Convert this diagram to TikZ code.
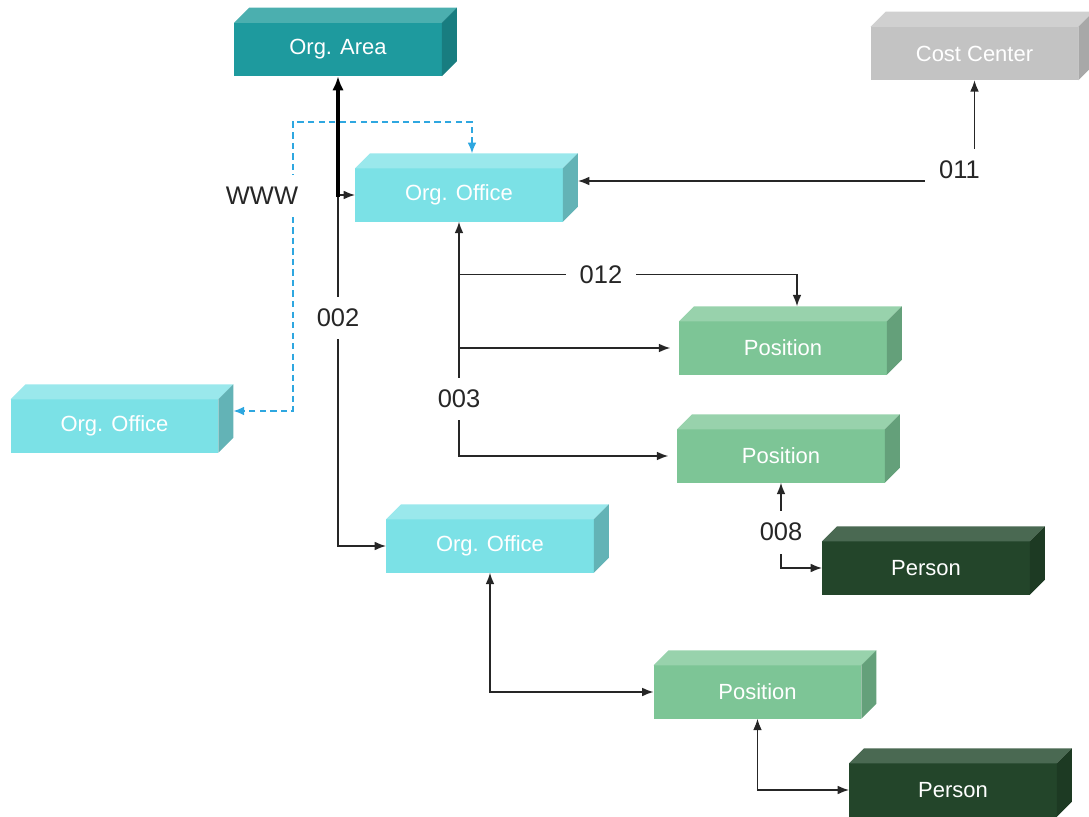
\documentclass[tikz,border=0pt]{standalone}
\usepackage{fontspec}
\setmainfont{Liberation Sans}
\usetikzlibrary{arrows.meta,calc}
\definecolor{area}{HTML}{1E9A9E}
\definecolor{areatop}{HTML}{4BAFAF}
\definecolor{areaside}{HTML}{187D80}
\definecolor{cost}{HTML}{C3C3C3}
\definecolor{costtop}{HTML}{D0D0D0}
\definecolor{costside}{HTML}{A8A8A8}
\definecolor{office}{HTML}{7BE1E6}
\definecolor{officetop}{HTML}{9AE8EC}
\definecolor{officeside}{HTML}{63B3B6}
\definecolor{posn}{HTML}{7DC596}
\definecolor{posntop}{HTML}{98D2AC}
\definecolor{posnside}{HTML}{64A07A}
\definecolor{person}{HTML}{23452A}
\definecolor{persontop}{HTML}{4A6952}
\definecolor{personside}{HTML}{1D3A23}
\definecolor{dashblue}{HTML}{2EA7E0}

\begin{document}
\begin{tikzpicture}[x=0.02cm, y=-0.02cm,
                >={Latex[length=6.5pt,width=5pt]},
                box/.style={fill=#1, text=white, font=\fontsize{12.5}{15}\selectfont,
                        minimum width=4.16cm, minimum height=1.07cm, inner sep=0pt, outer sep=0pt},
                conn/.style={draw=black!85, line width=0.8pt},
                lbl/.style={fill=white, text=black!85, font=\fontsize{14.5}{17}\selectfont,
                        inner xsep=8pt, inner ysep=7pt},
                dashlink/.style={draw=dashblue, line width=0.9pt, dash pattern=on 3.6pt off 2.4pt}]
                \useasboundingbox (0,0) rectangle (1089,817);

                \node[box=area]   (area) at (338,49.5)  {Org. Area};
                \node[box=cost]   (cc)   at (974.5,53.5) {Cost Center};
                \node[box=office] (oo1)  at (459,195)   {Org. Office};
                \node[box=office] (oo2)  at (114.5,426) {Org. Office};
                \node[box=office] (oo3)  at (490,546)   {Org. Office};
                \node[box=posn]   (pos1) at (783,348)   {Position};
                \node[box=posn]   (pos2) at (781,456)   {Position};
                \node[box=posn]   (pos3) at (757.5,692) {Position};
                \node[box=person] (per1) at (926,568)   {Person};
                \node[box=person] (per2) at (953,790)   {Person};

                \foreach \bx/\col in {area/area, cc/cost, oo1/office, oo2/office, oo3/office,
                                pos1/posn, pos2/posn, pos3/posn, per1/person, per2/person}{
                        \fill[\col top] (\bx.north west) -- ++(15,-15) -- ([shift={(15,-15)}]\bx.north east) -- (\bx.north east) -- cycle;
                        \fill[\col side] (\bx.north east) -- ++(15,-15) -- ([shift={(15,-15)}]\bx.south east) -- (\bx.south east) -- cycle;
                }

                \draw[conn, ->] (area.south |- oo1.west) -- (oo1.west);
                \draw[conn, ->] (area.south |- oo1.west) -- node[lbl, pos=0.35] {002} (area.south |- oo3.west) -- (oo3.west);
                \draw[draw=black, line width=2.2pt, <-, >={Latex[length=8pt,width=6.5pt]}] (area.south) -- ([yshift=-1pt]area.south |- oo1.west);

                \coordinate (bend) at (293,122);
                \draw[dashlink, <->, >={Latex[length=6pt,width=5pt]}] ([shift={(13,-15)}]oo1.north) |- (bend) |- ([shift={(15,-15)}]oo2.east);
                \node[lbl] (www) at (262,196) {WWW};

                \draw[conn, <->] ([shift={(15,-14)}]oo1.east) -| node[lbl, pos=0.5, shift={(-15,-11)}] {011} (cc.south);

                \draw[conn, <->, shorten >=5pt] (oo1.south) -- node[lbl, pos=0.756] {003} (oo1.south |- pos2.west) -- (pos2.west);
                \draw[conn, ->] ($(oo1.south)+(0,53)$) -| node[lbl, pos=0.21] {012} ([shift={(14,-15)}]pos1.north);
                \draw[conn, ->, shorten >=5pt] (oo1.south |- pos1.west) -- (pos1.west);

                \draw[conn, <->] (pos2.south) |- node[lbl, pos=0.29] {008} (per1.west);
                \draw[conn, <->] (oo3.south) |- (pos3.west);
                \draw[conn, <->] (pos3.south) |- (per2.west);
            \end{tikzpicture}
\end{document}
